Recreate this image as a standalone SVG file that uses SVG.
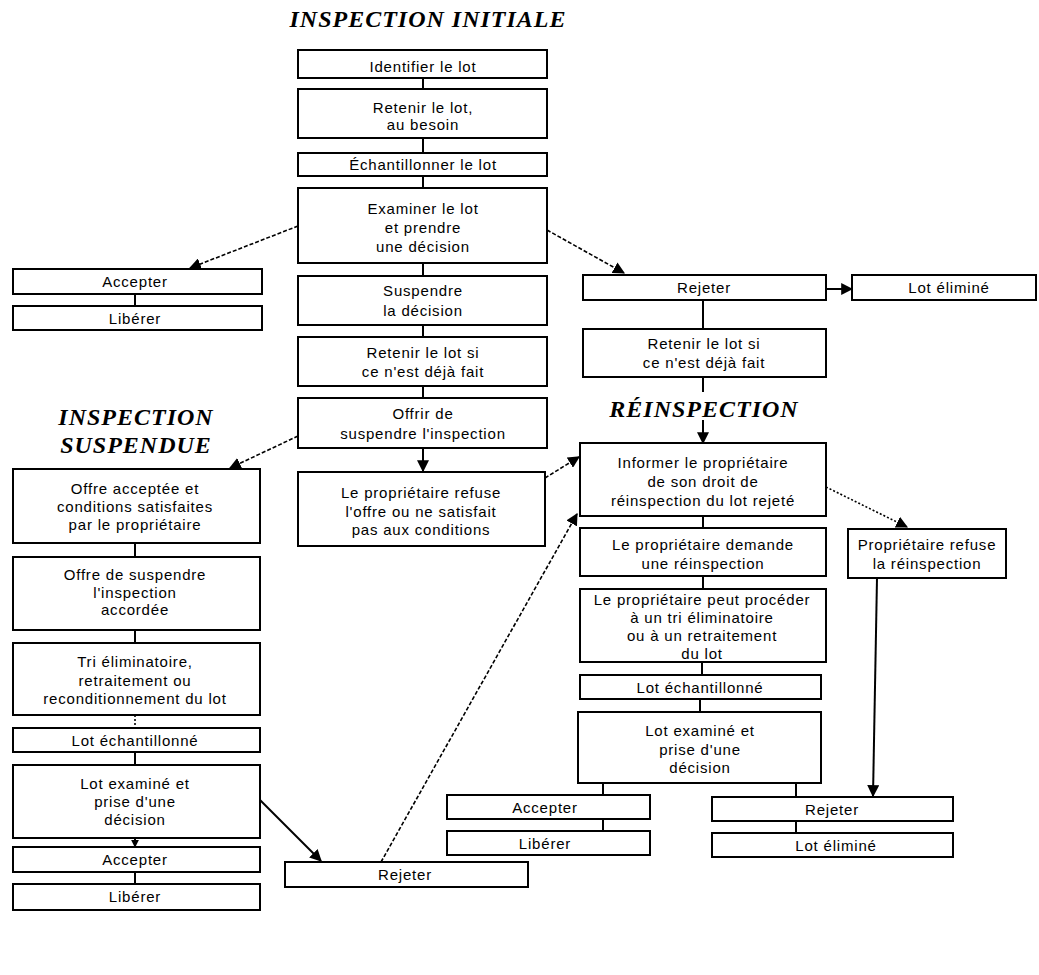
<svg xmlns="http://www.w3.org/2000/svg" width="1039" height="975" viewBox="0 0 1039 975">
  <style>
    .box { fill: #fff; stroke: #000; stroke-width: 2; }
    .lbl { font-family: "Liberation Sans", Arial, sans-serif; font-size: 15px; letter-spacing: 0.8px; text-anchor: middle; fill: #000; }
    .ttl { font-family: "Liberation Serif", "Times New Roman", serif; font-size: 24px; letter-spacing: 1px; font-weight: bold; font-style: italic; text-anchor: middle; fill: #000; }
    .ln { stroke: #000; stroke-width: 2; fill: none; }
    .dash { stroke: #000; stroke-width: 1.6; fill: none; stroke-dasharray: 4 2; }
    .dot { stroke: #000; stroke-width: 1.6; fill: none; stroke-dasharray: 2 2; }
  </style>
  <defs>
    <marker id="arr" viewBox="0 0 10 10" refX="9" refY="5" markerWidth="8" markerHeight="8" markerUnits="userSpaceOnUse" orient="auto">
      <path d="M0,0 L10,5 L0,10 z" fill="#000"/>
    </marker>
    <marker id="arrL" viewBox="0 0 10 10" refX="9" refY="5" markerWidth="12" markerHeight="12" markerUnits="userSpaceOnUse" orient="auto">
      <path d="M0,0 L10,5 L0,10 z" fill="#000"/>
    </marker>
  </defs>
  <rect width="1039" height="975" fill="#fff"/>

  <!-- Section titles -->
  <text class="ttl" x="428" y="27">INSPECTION INITIALE</text>
  <text class="ttl" x="136" y="425">INSPECTION</text>
  <text class="ttl" x="136" y="453">SUSPENDUE</text>
  <text class="ttl" x="704" y="417">RÉINSPECTION</text>

  <!-- Connectors -->
  <g id="connectors">
    <!-- initial inspection column -->
    <line class="ln" x1="423" y1="78" x2="423" y2="89"/>
    <line class="ln" x1="423" y1="138" x2="423" y2="153"/>
    <line class="ln" x1="423" y1="176" x2="423" y2="188"/>
    <line class="ln" x1="423" y1="263" x2="423" y2="276"/>
    <line class="ln" x1="423" y1="325" x2="423" y2="337"/>
    <line class="ln" x1="423" y1="386" x2="423" y2="398"/>
    <line class="ln" x1="423" y1="448" x2="423" y2="471" marker-end="url(#arrL)"/>
    <line class="dash" x1="298" y1="226" x2="190" y2="268" marker-end="url(#arrL)"/>
    <line class="dash" x1="547" y1="230" x2="624" y2="273" marker-end="url(#arrL)"/>
    <line class="ln" x1="135" y1="294" x2="135" y2="306"/>
    <line class="ln" x1="826" y1="289" x2="852" y2="289" marker-end="url(#arrL)"/>
    <line class="ln" x1="703" y1="300" x2="703" y2="329"/>
    <line class="dash" x1="298" y1="436" x2="230" y2="468" marker-end="url(#arrL)"/>

    <!-- suspended inspection column -->
    <line class="ln" x1="135" y1="543" x2="135" y2="557"/>
    <line class="ln" x1="135" y1="630" x2="135" y2="643"/>
    <line class="dot" x1="135" y1="715" x2="135" y2="728"/>
    <line class="ln" x1="135" y1="752" x2="135" y2="765"/>
    <line class="ln" x1="135" y1="838" x2="135" y2="847" marker-end="url(#arr)"/>
    <line class="ln" x1="135" y1="872" x2="135" y2="884"/>
    <line class="ln" x1="260" y1="800" x2="321" y2="861" marker-end="url(#arrL)"/>

    <!-- reinspection column -->
    <line class="ln" x1="703" y1="377" x2="703" y2="392"/>
    <line class="ln" x1="703" y1="420" x2="703" y2="443" marker-end="url(#arrL)"/>
    <line class="dash" x1="545" y1="478" x2="579" y2="457" marker-end="url(#arrL)"/>
    <line class="dash" x1="381" y1="862" x2="577" y2="514" marker-end="url(#arrL)"/>
    <line class="dot" x1="826" y1="487" x2="907" y2="527" marker-end="url(#arrL)"/>
    <line class="ln" x1="703" y1="516" x2="703" y2="528"/>
    <line class="ln" x1="703" y1="576" x2="703" y2="589"/>
    <line class="ln" x1="702" y1="662" x2="702" y2="675"/>
    <line class="ln" x1="700" y1="699" x2="700" y2="712"/>
    <line class="ln" x1="603" y1="783" x2="603" y2="795"/>
    <line class="ln" x1="603" y1="819" x2="603" y2="831"/>
    <line class="ln" x1="796" y1="783" x2="796" y2="797"/>
    <line class="ln" x1="796" y1="821" x2="796" y2="833"/>
    <line class="ln" x1="877" y1="578" x2="873" y2="796" marker-end="url(#arrL)"/>
  </g>

  <!-- Initial inspection -->
  <g id="identifier">
    <rect class="box" x="298" y="50" width="249" height="28"/>
    <text class="lbl" x="423" y="72">Identifier le lot</text>
  </g>
  <g id="retenir-besoin">
    <rect class="box" x="298" y="89" width="249" height="49"/>
    <text class="lbl" x="423" y="113">Retenir le lot,</text>
    <text class="lbl" x="423" y="130">au besoin</text>
  </g>
  <g id="echantillonner">
    <rect class="box" x="298" y="153" width="249" height="23"/>
    <text class="lbl" x="423" y="170">Échantillonner le lot</text>
  </g>
  <g id="examiner">
    <rect class="box" x="298" y="188" width="249" height="75"/>
    <text class="lbl" x="423" y="214">Examiner le lot</text>
    <text class="lbl" x="423" y="233">et prendre</text>
    <text class="lbl" x="423" y="252">une décision</text>
  </g>
  <g id="suspendre">
    <rect class="box" x="298" y="276" width="249" height="49"/>
    <text class="lbl" x="423" y="296">Suspendre</text>
    <text class="lbl" x="423" y="316">la décision</text>
  </g>
  <g id="retenir-si">
    <rect class="box" x="298" y="337" width="249" height="49"/>
    <text class="lbl" x="423" y="358">Retenir le lot si</text>
    <text class="lbl" x="423" y="377">ce n'est déjà fait</text>
  </g>
  <g id="offrir">
    <rect class="box" x="298" y="398" width="249" height="50"/>
    <text class="lbl" x="423" y="419">Offrir de</text>
    <text class="lbl" x="423" y="439">suspendre l'inspection</text>
  </g>
  <g id="refuse-offre">
    <rect class="box" x="298" y="472" width="247" height="74"/>
    <text class="lbl" x="421" y="498">Le propriétaire refuse</text>
    <text class="lbl" x="421" y="517">l'offre ou ne satisfait</text>
    <text class="lbl" x="421" y="535">pas aux conditions</text>
  </g>
  <g id="accepter-1">
    <rect class="box" x="13" y="269" width="249" height="25"/>
    <text class="lbl" x="135" y="287">Accepter</text>
  </g>
  <g id="liberer-1">
    <rect class="box" x="13" y="306" width="249" height="24"/>
    <text class="lbl" x="135" y="324">Libérer</text>
  </g>
  <g id="rejeter-1">
    <rect class="box" x="583" y="275" width="243" height="25"/>
    <text class="lbl" x="704" y="293">Rejeter</text>
  </g>
  <g id="elimine-1">
    <rect class="box" x="852" y="275" width="184" height="25"/>
    <text class="lbl" x="949" y="293">Lot éliminé</text>
  </g>
  <g id="retenir-rejet">
    <rect class="box" x="583" y="329" width="243" height="48"/>
    <text class="lbl" x="704" y="349">Retenir le lot si</text>
    <text class="lbl" x="704" y="368">ce n'est déjà fait</text>
  </g>

  <!-- Suspended inspection -->
  <g id="offre-acceptee">
    <rect class="box" x="13" y="469" width="247" height="74"/>
    <text class="lbl" x="135" y="494">Offre acceptée et</text>
    <text class="lbl" x="135" y="512">conditions satisfaites</text>
    <text class="lbl" x="135" y="530">par le propriétaire</text>
  </g>
  <g id="offre-accordee">
    <rect class="box" x="13" y="557" width="247" height="73"/>
    <text class="lbl" x="135" y="580">Offre de suspendre</text>
    <text class="lbl" x="135" y="598">l'inspection</text>
    <text class="lbl" x="135" y="615">accordée</text>
  </g>
  <g id="tri">
    <rect class="box" x="13" y="643" width="247" height="72"/>
    <text class="lbl" x="135" y="667">Tri éliminatoire,</text>
    <text class="lbl" x="135" y="686">retraitement ou</text>
    <text class="lbl" x="135" y="704">reconditionnement du lot</text>
  </g>
  <g id="echantillonne-2">
    <rect class="box" x="13" y="728" width="247" height="24"/>
    <text class="lbl" x="135" y="746">Lot échantillonné</text>
  </g>
  <g id="examine-2">
    <rect class="box" x="13" y="765" width="247" height="73"/>
    <text class="lbl" x="135" y="789">Lot examiné et</text>
    <text class="lbl" x="135" y="807">prise d'une</text>
    <text class="lbl" x="135" y="825">décision</text>
  </g>
  <g id="accepter-2">
    <rect class="box" x="13" y="847" width="247" height="25"/>
    <text class="lbl" x="135" y="865">Accepter</text>
  </g>
  <g id="liberer-2">
    <rect class="box" x="13" y="884" width="247" height="26"/>
    <text class="lbl" x="135" y="902">Libérer</text>
  </g>
  <g id="rejeter-2">
    <rect class="box" x="285" y="862" width="243" height="25"/>
    <text class="lbl" x="405" y="880">Rejeter</text>
  </g>

  <!-- Reinspection -->
  <g id="informer">
    <rect class="box" x="580" y="443" width="246" height="73"/>
    <text class="lbl" x="703" y="468">Informer le propriétaire</text>
    <text class="lbl" x="703" y="487">de son droit de</text>
    <text class="lbl" x="703" y="506">réinspection du lot rejeté</text>
  </g>
  <g id="demande">
    <rect class="box" x="580" y="528" width="246" height="48"/>
    <text class="lbl" x="703" y="550">Le propriétaire demande</text>
    <text class="lbl" x="703" y="569">une réinspection</text>
  </g>
  <g id="refuse-reinspection">
    <rect class="box" x="848" y="529" width="158" height="49"/>
    <text class="lbl" x="927" y="550">Propriétaire refuse</text>
    <text class="lbl" x="927" y="569">la réinspection</text>
  </g>
  <g id="tri-3">
    <rect class="box" x="580" y="589" width="246" height="73"/>
    <text class="lbl" x="702" y="605">Le propriétaire peut procéder</text>
    <text class="lbl" x="702" y="623">à un tri éliminatoire</text>
    <text class="lbl" x="702" y="641">ou à un retraitement</text>
    <text class="lbl" x="702" y="659">du lot</text>
  </g>
  <g id="echantillonne-3">
    <rect class="box" x="580" y="675" width="241" height="24"/>
    <text class="lbl" x="700" y="693">Lot échantillonné</text>
  </g>
  <g id="examine-3">
    <rect class="box" x="578" y="712" width="243" height="71"/>
    <text class="lbl" x="700" y="736">Lot examiné et</text>
    <text class="lbl" x="700" y="755">prise d'une</text>
    <text class="lbl" x="700" y="773">décision</text>
  </g>
  <g id="accepter-3">
    <rect class="box" x="447" y="795" width="203" height="24"/>
    <text class="lbl" x="545" y="813">Accepter</text>
  </g>
  <g id="liberer-3">
    <rect class="box" x="447" y="831" width="203" height="24"/>
    <text class="lbl" x="545" y="849">Libérer</text>
  </g>
  <g id="rejeter-3">
    <rect class="box" x="712" y="797" width="241" height="24"/>
    <text class="lbl" x="832" y="815">Rejeter</text>
  </g>
  <g id="elimine-3">
    <rect class="box" x="712" y="833" width="241" height="24"/>
    <text class="lbl" x="836" y="851">Lot éliminé</text>
  </g>
</svg>
